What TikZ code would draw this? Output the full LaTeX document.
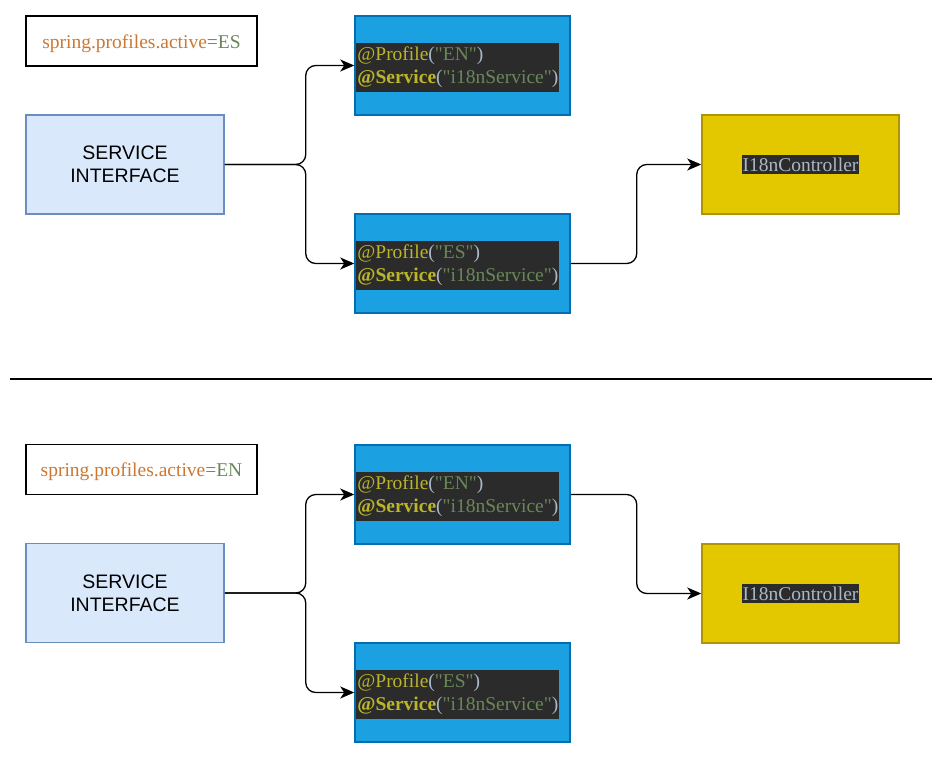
\documentclass[tikz,border=0pt]{standalone}
\usepackage{fontspec}
\setmainfont{Liberation Serif}
\newfontfamily\codefont{Liberation Serif}[Ligatures=TeXOff]
\newfontfamily\labelsans{Liberation Sans}
\usetikzlibrary{arrows.meta}

\definecolor{codebg}{HTML}{2B2B2B}
\definecolor{anno}{HTML}{BBB529}
\definecolor{paren}{HTML}{A9B7C6}
\definecolor{strval}{HTML}{6A8759}
\definecolor{propkey}{HTML}{CC7832}
\definecolor{ifill}{HTML}{DAE8FC}
\definecolor{idraw}{HTML}{6C8EBF}
\definecolor{bfill}{HTML}{1BA1E2}
\definecolor{bdraw}{HTML}{006EAF}
\definecolor{yfill}{HTML}{E3C800}
\definecolor{ydraw}{HTML}{B09500}

% annotated service class, as shown in the IDE
\newcommand\servicecode[1]{%
  \begin{tabular}{@{}l@{}}%
  \textcolor{anno}{@Profile}\textcolor{paren}{(}\textcolor{strval}{"#1"}\textcolor{paren}{)}\\
  \textcolor{anno}{\textbf{@Service}}\textcolor{paren}{(}\textcolor{strval}{"i18nService"}\textcolor{paren}{)}%
  \end{tabular}}
% active profile property line
\newcommand\activeprop[1]{%
  \raisebox{-7pt}[0pt][0pt]{\textcolor{propkey}{spring.profiles.active}\textcolor{strval}{=#1}}}

\tikzset{
  box/.style={draw, line width=1.5pt, inner sep=0pt},
  propbox/.style={box, fill=white, draw=black, minimum width=231pt, minimum height=50pt,
    font=\fontsize{19.5}{22}\selectfont},
  ifacebox/.style={box, fill=ifill, draw=idraw, minimum width=198pt, minimum height=99pt,
    align=center, font=\labelsans\fontsize{19.5}{23}\selectfont},
  implbox/.style={box, fill=bfill, draw=bdraw, minimum width=215pt, minimum height=99pt},
  ctrlbox/.style={box, fill=yfill, draw=ydraw, minimum width=197pt, minimum height=99pt},
  code/.style={fill=codebg, inner xsep=1pt, inner ysep=1.5pt, anchor=west,
    font=\codefont\fontsize{19.5}{23}\selectfont},
  ctrltext/.style={fill=codebg, text=paren, inner xsep=1pt, inner ysep=3pt,
    font=\fontsize{19.5}{22}\selectfont},
  conn/.style={line width=1.3pt, rounded corners=10pt,
    -{Stealth[length=14pt,width=12pt,inset=4pt]}},
}

\begin{document}
\begin{tikzpicture}[x=1pt,y=-1pt]
\useasboundingbox (0,0) rectangle (945,758);

% ---- profile ES active ----
\node[propbox] (propA) at (141.5,41) {\activeprop{ES}};
\node[ifacebox] (ifaceA) at (125,164.5) {SERVICE\\INTERFACE};
\node[implbox] (enA) at (462.5,65.5) {};
\node[code] (enAcode) at ([xshift=2pt,yshift=-2pt]enA.west) {\servicecode{EN}};
\node[implbox] (esA) at (462.5,263.5) {};
\node[code] (esAcode) at ([xshift=2pt,yshift=-2pt]esA.west) {\servicecode{ES}};
\node[ctrlbox] (ctrlA) at (800.5,164.5) {};
\node[ctrltext] (ctrlAtext) at (ctrlA.center) {I18nController};

\draw[conn] (ifaceA.east) -- ++(81,0) |- (enA.west);
\draw[conn] (ifaceA.east) -- ++(81,0) |- (esA.west);
\draw[conn] (esA.east) -- ++(66,0) |- (ctrlA.west);

% ---- divider ----
\coordinate (divL) at (10,379);
\coordinate (divR) at (932,379);
\draw[line width=1.6pt] (divL) -- (divR);

% ---- profile EN active ----
\node[propbox] (propB) at (141.5,469.5) {\activeprop{EN}};
\node[ifacebox] (ifaceB) at (125,593) {SERVICE\\INTERFACE};
\node[implbox] (enB) at (462.5,494.5) {};
\node[code] (enBcode) at ([xshift=2pt,yshift=-2pt]enB.west) {\servicecode{EN}};
\node[implbox] (esB) at (462.5,692.5) {};
\node[code] (esBcode) at ([xshift=2pt,yshift=-2pt]esB.west) {\servicecode{ES}};
\node[ctrlbox] (ctrlB) at (800.5,593.5) {};
\node[ctrltext] (ctrlBtext) at (ctrlB.center) {I18nController};

\draw[conn] (ifaceB.east) -- ++(81,0) |- (enB.west);
\draw[conn] (ifaceB.east) -- ++(81,0) |- (esB.west);
\draw[conn] (enB.east) -- ++(66,0) |- (ctrlB.west);
\end{tikzpicture}
\end{document}
